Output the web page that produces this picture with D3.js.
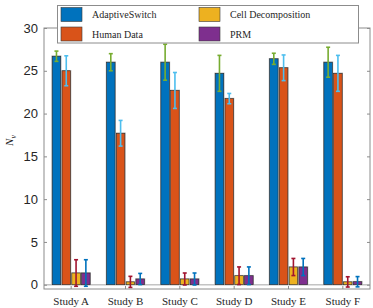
<!DOCTYPE html>
<html>
<head>
<meta charset="utf-8">
<script src="https://cdn.jsdelivr.net/npm/d3@7"></script>
<style>
  body { margin: 0; background: #fff; }
  svg { display: block; }
  .serif { font-family: 'Liberation Serif', 'DejaVu Serif', 'Times New Roman', Times, serif; }
</style>
</head>
<body>
<div id="root"></div>
<script>
// data
const studies = ['Study A', 'Study B', 'Study C', 'Study D', 'Study E', 'Study F'];
const methods = ['AdaptiveSwitch', 'Human Data', 'Cell Decomposition', 'PRM'];
const adaptive = [26.7, 26.0, 26.0, 24.7, 26.4, 26.0];
const adaptiveErr = [0.6, 1.0, 2.1, 2.1, 0.65, 1.75];
const human = [25.0, 17.7, 22.7, 21.75, 25.35, 24.7];
const humanErr = [1.75, 1.5, 2.1, 0.6, 1.5, 2.1];
const cellDec = [1.37, 0.33, 0.67, 1.05, 2.07, 0.33];
const cellDecErr = [1.55, 0.65, 0.7, 1.03, 1.0, 0.6];
const prm = [1.37, 0.67, 0.67, 1.05, 2.07, 0.35];
const prmErr = [1.55, 0.65, 0.7, 1.03, 1.0, 0.6];
const yTicks = [0, 5, 10, 15, 20, 25, 30];

const barColors = ['#0072BD', '#D95319', '#EDB120', '#7E2F8E'];
const errColors = ['#77AC30', '#4DBEEE', '#A2142F', '#0072BD'];

const series = [adaptive, human, cellDec, prm];
const errs = [adaptiveErr, humanErr, cellDecErr, prmErr];

const W = 373, H = 308;
const L = 44, R = 370, T = 28, B = 289;

const svg = d3.select('#root').append('svg').attr('width', W).attr('height', H);

const x = d3.scaleBand().domain(studies).range([L, R]).padding(0);
const y = d3.scaleLinear().domain([-0.5, 30]).range([B, T]);
const stride = 9.8, bw = 8.5;

// baseline at 0
svg.append('line')
  .attr('x1', L).attr('x2', R).attr('y1', y(0)).attr('y2', y(0))
  .attr('stroke', '#c4c4c4').attr('stroke-width', 1.5);

const rows = [];
series.forEach((s, m) => s.forEach((v, i) => rows.push({ m, i, v, e: errs[m][i] })));

const bx = d => x(studies[d.i]) + x.bandwidth() / 2 + (d.m - 1.5) * stride - bw / 2;

// light halo behind bars
svg.selectAll('rect.halo').data(rows).enter().append('rect')
  .attr('class', 'halo')
  .attr('x', d => bx(d) - 0.8).attr('width', bw + 1.6)
  .attr('y', d => y(d.v) - 0.8).attr('height', d => y(0) - y(d.v) + 0.8)
  .attr('fill', '#b8b8b8');

svg.selectAll('rect.bar').data(rows).enter().append('rect')
  .attr('class', 'bar')
  .attr('x', d => bx(d)).attr('width', bw)
  .attr('y', d => y(d.v)).attr('height', d => y(0) - y(d.v))
  .attr('fill', d => barColors[d.m])
  .attr('stroke', '#2a2a2a').attr('stroke-width', 0.6);

// error bars
const eg = svg.selectAll('g.err').data(rows).enter().append('g')
  .attr('stroke', d => errColors[d.m]).attr('stroke-width', 1.6);
const cx = d => bx(d) + bw / 2;
eg.append('line')
  .attr('x1', cx).attr('x2', cx)
  .attr('y1', d => y(d.v - d.e)).attr('y2', d => y(d.v + d.e));
eg.append('line')
  .attr('x1', d => cx(d) - 2).attr('x2', d => cx(d) + 2)
  .attr('y1', d => y(d.v + d.e)).attr('y2', d => y(d.v + d.e));
eg.append('line')
  .attr('x1', d => cx(d) - 2).attr('x2', d => cx(d) + 2)
  .attr('y1', d => y(d.v - d.e)).attr('y2', d => y(d.v - d.e));

// axes box
const axColor = '#8c8c8c';
svg.append('rect')
  .attr('x', L).attr('y', T).attr('width', R - L).attr('height', B - T)
  .attr('fill', 'none').attr('stroke', axColor).attr('stroke-width', 1);

const yAxisL = d3.axisLeft(y).tickValues(yTicks).tickSizeInner(-3).tickSizeOuter(0).tickPadding(6);
const gy = svg.append('g').attr('transform', `translate(${L},0)`).call(yAxisL)
  .attr('font-family', '"Liberation Sans", Arial, sans-serif').attr('font-size', 13);
gy.select('.domain').remove();
gy.selectAll('line').attr('stroke', axColor);
gy.selectAll('text').attr('fill', '#262626');

const yAxisR = d3.axisRight(y).tickValues(yTicks).tickSizeInner(-3).tickSizeOuter(0).tickFormat('');
const gyr = svg.append('g').attr('transform', `translate(${R},0)`).call(yAxisR);
gyr.select('.domain').remove();
gyr.selectAll('line').attr('stroke', axColor);

const xAxis = d3.axisBottom(x).tickSizeInner(-3).tickSizeOuter(0).tickPadding(8);
const gx = svg.append('g').attr('transform', `translate(0,${B})`).call(xAxis)
  .attr('font-family', null).attr('font-size', 11).attr('class', 'serif');
gx.select('.domain').remove();
gx.selectAll('line').attr('stroke', axColor);
gx.selectAll('text').attr('fill', '#262626');

// y label
const yl = svg.append('text')
  .attr('class', 'serif')
  .attr('transform', `translate(13,${(T + B) / 2 - 18}) rotate(-90)`)
  .attr('text-anchor', 'middle')
  .attr('font-size', 11).attr('font-style', 'italic').attr('fill', '#262626');
yl.append('tspan').text('N');
yl.append('tspan').attr('dy', 2.5).attr('font-size', 8).text('v');

// legend
const lg = svg.append('g').attr('class', 'serif');
lg.append('rect')
  .attr('x', 57.5).attr('y', 5.5).attr('width', 301).attr('height', 37.5)
  .attr('fill', '#fff').attr('stroke', axColor).attr('stroke-width', 1);
const legPos = [[61, 7.5], [61, 27], [199, 7.5], [199, 27]];
methods.forEach((name, m) => {
  const [lx, ly] = legPos[m];
  lg.append('rect')
    .attr('x', lx).attr('y', ly).attr('width', 21).attr('height', 14)
    .attr('fill', barColors[m]).attr('stroke', '#3a3a3a').attr('stroke-width', 0.6);
  lg.append('text')
    .attr('x', lx + 31).attr('y', ly + 10.5)
    .attr('font-size', 10).attr('fill', '#262626')
    .text(name);
});
</script>
</body>
</html>
